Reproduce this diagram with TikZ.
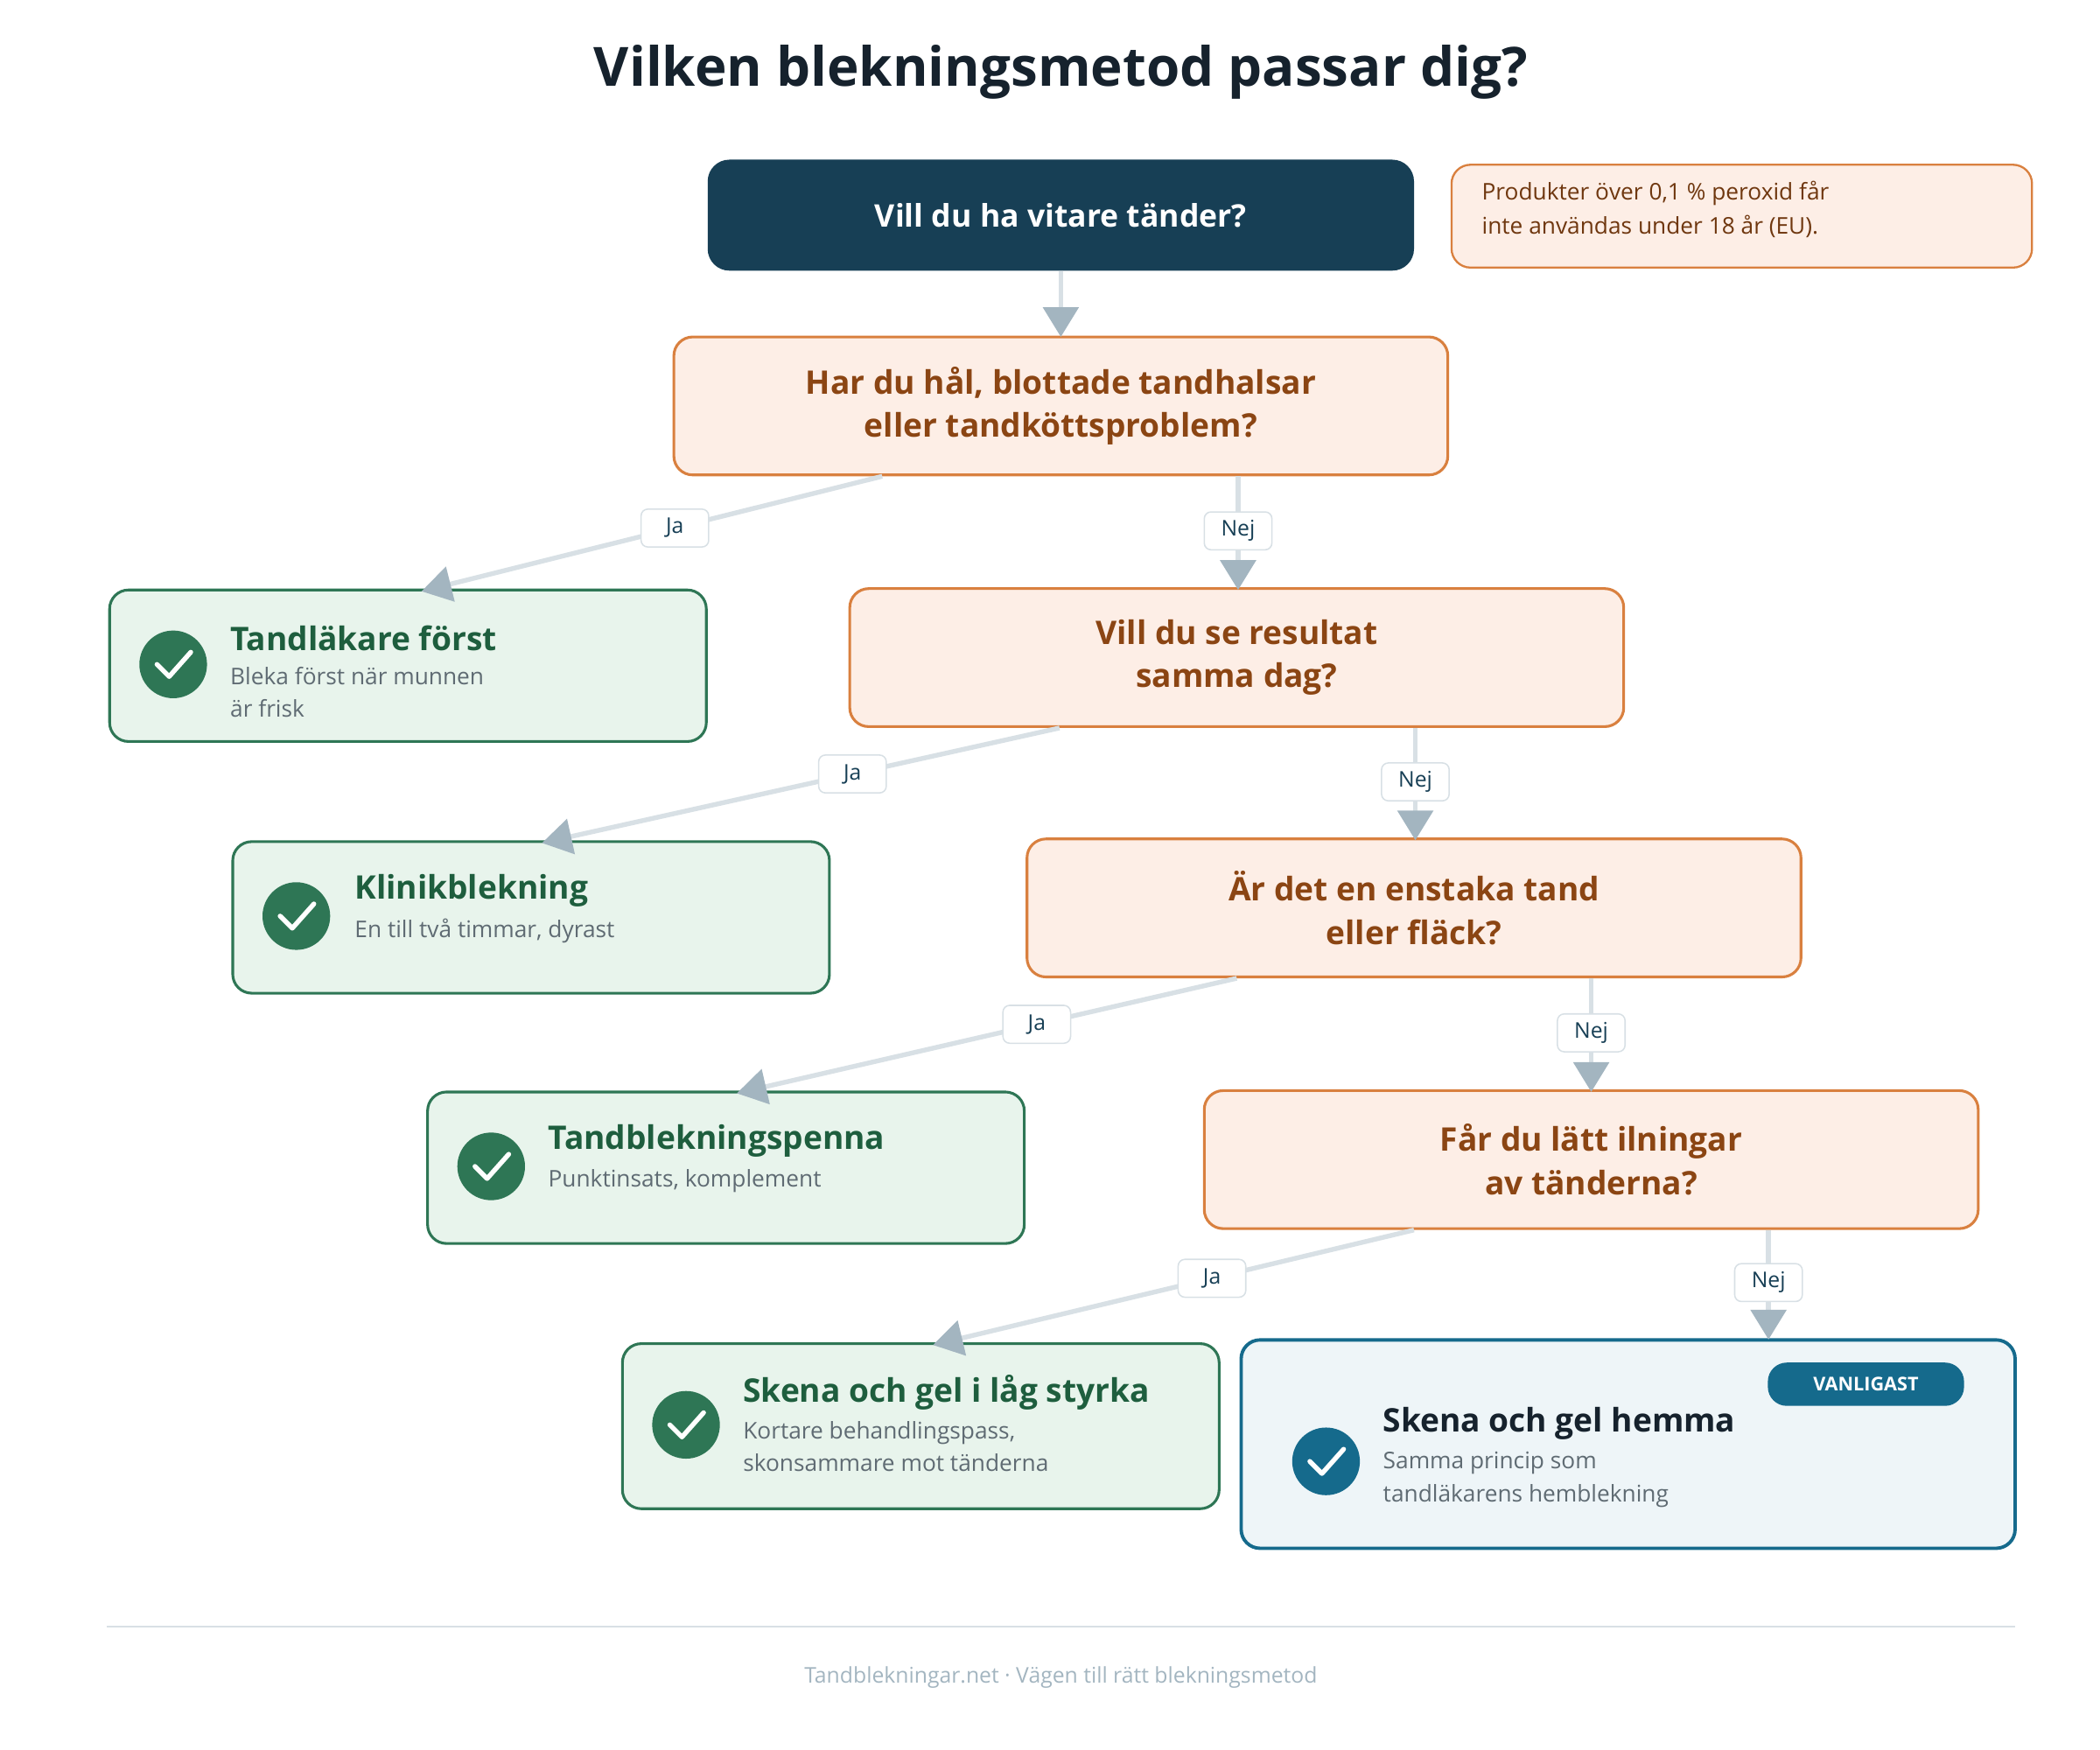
\documentclass[tikz,border=0pt]{standalone}
\usepackage{fontspec}
\setmainfont{Open Sans}
\usetikzlibrary{arrows.meta,calc}
\definecolor{navy}{HTML}{173F55}
\definecolor{qfill}{HTML}{FDEEE6}
\definecolor{qdraw}{HTML}{D9803F}
\definecolor{qtext}{HTML}{8B4513}
\definecolor{gfill}{HTML}{E8F4EC}
\definecolor{gdraw}{HTML}{2E7655}
\definecolor{gtext}{HTML}{1E5E3E}
\definecolor{sub}{HTML}{5F6B73}
\definecolor{bdraw}{HTML}{156A8C}
\definecolor{bfill}{HTML}{EEF5F8}
\definecolor{line}{HTML}{D8E0E5}
\definecolor{tip}{HTML}{A3B5C0}
\definecolor{ink}{HTML}{16222D}
\begin{document}
\begin{tikzpicture}[x=1pt,y=-1pt,
 q/.style={draw=qdraw,fill=qfill,line width=2pt,rounded corners=14pt,minimum width=572pt,minimum height=102pt,align=center,text=qtext,font=\fontsize{24}{32}\selectfont\bfseries},
 res/.style={draw=gdraw,fill=gfill,line width=2pt,rounded corners=14pt,minimum width=441pt,anchor=north west},
 chk/.style={circle,fill=gdraw,minimum size=50pt,inner sep=0pt},
 rt/.style={anchor=west,text=gtext,font=\fontsize{24}{28}\selectfont\bfseries,inner sep=0pt},
 rs/.style={anchor=north west,text=sub,font=\fontsize{17}{24}\selectfont,align=left,inner sep=0pt},
 con/.style={draw=line,line width=3.5pt,-{Triangle[width=26pt,length=22pt,color=tip,fill=tip]}},
 lab/.style={fill=white,draw=line,line width=1pt,rounded corners=5pt,font=\fontsize{16}{18}\selectfont,text=navy,minimum width=50pt,minimum height=28pt,inner sep=2pt}]
\useasboundingbox (0,0) rectangle (1552,1293);
\node[font=\fontsize{40}{46}\selectfont\bfseries,text=ink] (title) at (784,53) {Vilken blekningsmetod passar dig?};
\node[fill=navy,rounded corners=16pt,minimum width=522pt,minimum height=82pt,text=white,font=\fontsize{23}{28}\selectfont\bfseries] (start) at (784,159) {Vill du ha vitare tänder?};
\node[draw=qdraw,fill=qfill,line width=1.5pt,rounded corners=14pt,minimum width=429pt,minimum height=76pt,anchor=north west] (note) at (1072,121) {};
\node[anchor=west,align=left,text=qtext!80!black,font=\fontsize{17}{25}\selectfont,inner sep=0pt] (notet) at (1095,155) {Produkter över 0,1 \% peroxid får\\inte användas under 18 år (EU).};
\node[q] (q1) at (784,300) {Har du hål, blottade tandhalsar\\eller tandköttsproblem?};
\node[q] (q2) at (914,486) {Vill du se resultat\\samma dag?};
\node[q] (q3) at (1045,671) {Är det en enstaka tand\\eller fläck?};
\node[q] (q4) at (1176,857) {Får du lätt ilningar\\av tänderna?};
% results
\node[res,minimum height=112pt] (r1) at (80,435) {};
\node[chk] (c1) at (128,491) {}; \draw[white,line width=3.5pt,line cap=round,line join=round] (116,491) -- (125,500) -- (141,482);
\node[rt] (t1) at (170,472) {Tandläkare först};
\node[rs] (s1) at (170,493) {Bleka först när munnen\\är frisk};
\node[res,minimum height=112pt] (r2) at (171,621) {};
\node[chk] (c2) at (219,677) {}; \draw[white,line width=3.5pt,line cap=round,line join=round] (207,677) -- (216,686) -- (232,668);
\node[rt] (t2) at (262,658) {Klinikblekning};
\node[rs] (s2) at (262,679) {En till två timmar, dyrast};
\node[res,minimum height=112pt] (r3) at (315,806) {};
\node[chk] (c3) at (363,862) {}; \draw[white,line width=3.5pt,line cap=round,line join=round] (351,862) -- (360,871) -- (376,853);
\node[rt] (t3) at (405,843) {Tandblekningspenna};
\node[rs] (s3) at (405,864) {Punktinsats, komplement};
\node[res,minimum height=122pt] (r4) at (459,992) {};
\node[chk] (c4) at (507,1053) {}; \draw[white,line width=3.5pt,line cap=round,line join=round] (495,1053) -- (504,1062) -- (520,1044);
\node[rt] (t4) at (549,1029) {Skena och gel i låg styrka};
\node[rs] (s4) at (549,1050) {Kortare behandlingspass,\\skonsammare mot tänderna};
\node[draw=bdraw,fill=bfill,line width=2.5pt,rounded corners=14pt,minimum width=572pt,minimum height=154pt,anchor=north west] (r5) at (916,989) {};
\node[fill=bdraw,rounded corners=14pt,minimum width=145pt,minimum height=32pt,text=white,font=\fontsize{14}{16}\selectfont\bfseries,inner sep=0pt] (badge) at (1379,1023) {VANLIGAST};
\node[circle,fill=bdraw,minimum size=50pt,inner sep=0pt] (c5) at (980,1080) {}; \draw[white,line width=3.5pt,line cap=round,line join=round] (968,1080) -- (977,1089) -- (993,1071);
\node[rt,text=ink] (t5) at (1022,1052) {Skena och gel hemma};
\node[rs] (s5) at (1022,1073) {Samma princip som\\tandläkarens hemblekning};
% connectors
\draw[con] (start.south) -- ([yshift=-1pt]q1.north);
\coordinate (n1) at ([xshift=131pt]q1.south);
\coordinate (n2) at ([xshift=132pt]q2.south);
\coordinate (n3) at ([xshift=131pt]q3.south);
\coordinate (n4) at ([xshift=131pt]q4.south);
\draw[con] ([xshift=-132pt]q1.south) -- ([xshift=10pt,yshift=-2pt]r1.north) node[lab,pos=0.45] {Ja};
\draw[con] (n1) -- ([yshift=-2pt]n1 |- q2.north) node[lab,pos=0.48] {Nej};
\draw[con] ([xshift=-131pt]q2.south) -- ([xshift=8pt,yshift=-2pt]r2.north) node[lab,pos=0.4] {Ja};
\draw[con] (n2) -- ([yshift=-2pt]n2 |- q3.north) node[lab,pos=0.48] {Nej};
\draw[con] ([xshift=-131pt]q3.south) -- ([xshift=8pt,yshift=-2pt]r3.north) node[lab,pos=0.4] {Ja};
\draw[con] (n3) -- ([yshift=-2pt]n3 |- q4.north) node[lab,pos=0.48] {Nej};
\draw[con] ([xshift=-131pt]q4.south) -- ([xshift=9pt,yshift=-2pt]r4.north) node[lab,pos=0.42] {Ja};
\draw[con] (n4) -- ([yshift=-1pt]n4 |- r5.north) node[lab,pos=0.48] {Nej};
% footer
\draw[line,line width=1pt] (79,1202) -- (1489,1202);
\node[text=tip,font=\fontsize{16}{18}\selectfont] (foot) at (784,1240) {Tandblekningar.net · Vägen till rätt blekningsmetod};
\end{tikzpicture}
\end{document}
